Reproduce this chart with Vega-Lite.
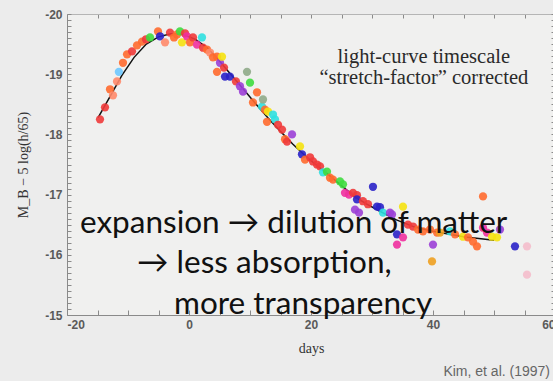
{
  "$schema": "https://vega.github.io/schema/vega-lite/v6.json",
  "width": 488,
  "height": 301,
  "autosize": {"type": "none"},
  "padding": {"left": 67, "top": 14, "right": 0, "bottom": 66},
  "background": "#ececec",
  "config": {
    "view": {"fill": "#f0f0ef", "stroke": null},
    "axis": {
      "grid": false,
      "domainColor": "#8a8a8a",
      "tickColor": "#8a8a8a",
      "labelFont": "Liberation Sans",
      "labelFontWeight": "bold",
      "labelColor": "#5a5a5a",
      "labelFontSize": 12,
      "titleFont": "Liberation Serif",
      "titleFontWeight": "normal",
      "titleColor": "#333333",
      "titleFontSize": 14
    }
  },
  "datasets": {
    "curve": [
      {"day": -14.9, "mag": -18.28}, {"day": -13, "mag": -18.62}, {"day": -11, "mag": -18.98},
      {"day": -9, "mag": -19.28}, {"day": -7, "mag": -19.5}, {"day": -5, "mag": -19.62},
      {"day": -3, "mag": -19.67}, {"day": -1, "mag": -19.66}, {"day": 1, "mag": -19.58},
      {"day": 3, "mag": -19.44}, {"day": 5, "mag": -19.22}, {"day": 7, "mag": -18.98},
      {"day": 9, "mag": -18.74}, {"day": 11, "mag": -18.5}, {"day": 13, "mag": -18.27},
      {"day": 15, "mag": -18.05}, {"day": 17, "mag": -17.84}, {"day": 19, "mag": -17.65},
      {"day": 21, "mag": -17.48}, {"day": 23, "mag": -17.32}, {"day": 25, "mag": -17.15},
      {"day": 27, "mag": -16.98}, {"day": 29, "mag": -16.85}, {"day": 31, "mag": -16.74},
      {"day": 34, "mag": -16.58}, {"day": 37, "mag": -16.46}, {"day": 40, "mag": -16.39},
      {"day": 45, "mag": -16.3}, {"day": 50, "mag": -16.24}
    ],
    "obs": [
      {"day": -14.59, "mag": -18.25, "sn": "a"}, {"day": -13.77, "mag": -18.45, "sn": "a"},
      {"day": -12.95, "mag": -18.75, "sn": "b"}, {"day": -12.46, "mag": -18.65, "sn": "j"},
      {"day": -11.8, "mag": -18.88, "sn": "j"}, {"day": -11.5, "mag": -19.04, "sn": "i"},
      {"day": -10.82, "mag": -19.19, "sn": "b"}, {"day": -10.16, "mag": -19.33, "sn": "b"},
      {"day": -9.34, "mag": -19.38, "sn": "a"}, {"day": -8.52, "mag": -19.48, "sn": "b"},
      {"day": -7.7, "mag": -19.54, "sn": "b"}, {"day": -7.05, "mag": -19.58, "sn": "a"},
      {"day": -6.39, "mag": -19.61, "sn": "c"}, {"day": -5.08, "mag": -19.71, "sn": "b"},
      {"day": -4.75, "mag": -19.63, "sn": "d"}, {"day": -3.93, "mag": -19.53, "sn": "j"},
      {"day": -3.11, "mag": -19.69, "sn": "a"}, {"day": -2.46, "mag": -19.61, "sn": "b"},
      {"day": -1.97, "mag": -19.66, "sn": "b"}, {"day": -1.48, "mag": -19.71, "sn": "c"},
      {"day": -1.15, "mag": -19.53, "sn": "h"}, {"day": -0.66, "mag": -19.68, "sn": "a"},
      {"day": -0.33, "mag": -19.63, "sn": "f"}, {"day": 0.16, "mag": -19.53, "sn": "b"},
      {"day": 0.66, "mag": -19.61, "sn": "a"}, {"day": 1.31, "mag": -19.49, "sn": "f"},
      {"day": 2.13, "mag": -19.61, "sn": "g"}, {"day": 2.3, "mag": -19.44, "sn": "a"},
      {"day": 2.95, "mag": -19.41, "sn": "b"}, {"day": 3.44, "mag": -19.36, "sn": "j"},
      {"day": 3.93, "mag": -19.28, "sn": "b"}, {"day": 4.59, "mag": -19.29, "sn": "b"},
      {"day": 5.08, "mag": -19.19, "sn": "e"}, {"day": 5.41, "mag": -19.29, "sn": "h"},
      {"day": 4.59, "mag": -19.04, "sn": "b"}, {"day": 5.74, "mag": -19.11, "sn": "a"},
      {"day": 5.9, "mag": -18.96, "sn": "d"}, {"day": 6.72, "mag": -18.96, "sn": "d"},
      {"day": 7.7, "mag": -18.88, "sn": "a"}, {"day": 8.36, "mag": -18.8, "sn": "e"},
      {"day": 8.85, "mag": -18.71, "sn": "e"}, {"day": 9.51, "mag": -19.04, "sn": "m"},
      {"day": 10.0, "mag": -18.86, "sn": "c"}, {"day": 10.49, "mag": -18.53, "sn": "b"},
      {"day": 11.15, "mag": -18.7, "sn": "b"}, {"day": 11.97, "mag": -18.46, "sn": "g"},
      {"day": 12.13, "mag": -18.58, "sn": "m"}, {"day": 12.46, "mag": -18.41, "sn": "b"},
      {"day": 12.95, "mag": -18.38, "sn": "h"}, {"day": 12.79, "mag": -18.21, "sn": "b"},
      {"day": 13.77, "mag": -18.33, "sn": "g"}, {"day": 14.1, "mag": -18.25, "sn": "g"},
      {"day": 14.59, "mag": -18.16, "sn": "a"}, {"day": 15.25, "mag": -18.08, "sn": "a"},
      {"day": 15.74, "mag": -17.92, "sn": "b"}, {"day": 16.07, "mag": -17.88, "sn": "a"},
      {"day": 16.89, "mag": -18.0, "sn": "e"}, {"day": 18.2, "mag": -17.8, "sn": "h"},
      {"day": 18.52, "mag": -17.67, "sn": "d"}, {"day": 19.02, "mag": -17.58, "sn": "b"},
      {"day": 19.84, "mag": -17.62, "sn": "a"}, {"day": 20.33, "mag": -17.55, "sn": "a"},
      {"day": 20.98, "mag": -17.5, "sn": "a"}, {"day": 21.48, "mag": -17.47, "sn": "a"},
      {"day": 21.97, "mag": -17.37, "sn": "g"}, {"day": 22.62, "mag": -17.38, "sn": "c"},
      {"day": 23.11, "mag": -17.28, "sn": "b"}, {"day": 23.61, "mag": -17.25, "sn": "b"},
      {"day": 24.75, "mag": -17.22, "sn": "c"}, {"day": 25.25, "mag": -17.17, "sn": "c"},
      {"day": 25.57, "mag": -17.03, "sn": "f"}, {"day": 26.23, "mag": -17.0, "sn": "f"},
      {"day": 26.89, "mag": -17.03, "sn": "a"}, {"day": 27.54, "mag": -16.99, "sn": "a"},
      {"day": 27.54, "mag": -16.92, "sn": "d"}, {"day": 27.21, "mag": -16.75, "sn": "e"},
      {"day": 27.87, "mag": -16.7, "sn": "e"}, {"day": 28.52, "mag": -16.89, "sn": "a"},
      {"day": 29.34, "mag": -16.84, "sn": "a"}, {"day": 30.16, "mag": -17.13, "sn": "d"},
      {"day": 30.82, "mag": -16.8, "sn": "d"}, {"day": 31.31, "mag": -16.79, "sn": "d"},
      {"day": 31.8, "mag": -16.7, "sn": "g"}, {"day": 32.95, "mag": -16.7, "sn": "e"},
      {"day": 33.28, "mag": -16.67, "sn": "e"}, {"day": 35.08, "mag": -16.8, "sn": "h"},
      {"day": 34.1, "mag": -16.34, "sn": "d"}, {"day": 35.08, "mag": -16.29, "sn": "f"},
      {"day": 34.1, "mag": -16.17, "sn": "f"}, {"day": 35.9, "mag": -16.5, "sn": "a"},
      {"day": 36.72, "mag": -16.47, "sn": "a"}, {"day": 37.54, "mag": -16.42, "sn": "b"},
      {"day": 38.36, "mag": -16.39, "sn": "b"}, {"day": 39.51, "mag": -16.42, "sn": "b"},
      {"day": 40.66, "mag": -16.37, "sn": "b"}, {"day": 40.0, "mag": -16.17, "sn": "e"},
      {"day": 39.84, "mag": -15.89, "sn": "k"}, {"day": 41.15, "mag": -16.37, "sn": "k"},
      {"day": 42.79, "mag": -16.39, "sn": "g"}, {"day": 43.61, "mag": -16.34, "sn": "b"},
      {"day": 44.92, "mag": -16.3, "sn": "h"}, {"day": 45.74, "mag": -16.29, "sn": "b"},
      {"day": 46.56, "mag": -16.22, "sn": "b"}, {"day": 47.21, "mag": -16.14, "sn": "b"},
      {"day": 48.2, "mag": -16.97, "sn": "b"}, {"day": 48.2, "mag": -16.45, "sn": "f"},
      {"day": 48.85, "mag": -16.37, "sn": "f"}, {"day": 49.67, "mag": -16.3, "sn": "h"},
      {"day": 50.49, "mag": -16.29, "sn": "h"}, {"day": 50.98, "mag": -16.42, "sn": "e"},
      {"day": 53.44, "mag": -16.14, "sn": "d"}, {"day": 55.41, "mag": -16.14, "sn": "l"},
      {"day": 55.41, "mag": -15.67, "sn": "l"}
    ],
    "serifnote": [
      {"day": 38.5, "mag": -19.19, "text": "light-curve timescale"},
      {"day": 38.5, "mag": -18.83, "text": "“stretch-factor” corrected"}
    ],
    "bignote": [
      {"day": -17.87, "mag": -16.37, "text": "expansion → dilution of matter"},
      {"day": -8.52, "mag": -15.69, "text": "→ less absorption,"},
      {"day": -2.46, "mag": -15.01, "text": "more transparency"}
    ],
    "credit": [
      {"day": 59.18, "mag": -13.99, "text": "Kim, et al. (1997)"}
    ]
  },
  "layer": [
    {
      "data": {"name": "curve"},
      "mark": {"type": "line", "color": "#111111", "strokeWidth": 1.5},
      "encoding": {
        "x": {"field": "day", "type": "quantitative",
          "scale": {"domain": [-20, 60], "nice": false, "zero": false},
          "axis": {"orient": "top", "labels": false, "title": null, "tickSize": -4, "domainColor": "#b5b5b5",
            "values": [-20,-15,-10,-5,0,5,10,15,20,25,30,35,40,45,50,55,60]}},
        "y": {"field": "mag", "type": "quantitative",
          "scale": {"domain": [-20, -15], "nice": false, "zero": false, "reverse": true},
          "axis": {"orient": "right", "labels": false, "title": null, "tickSize": -4, "domainColor": "#b5b5b5",
            "values": [-20,-19.9,-19.8,-19.7,-19.6,-19.5,-19.4,-19.3,-19.2,-19.1,-19,-18.9,-18.8,-18.7,-18.6,-18.5,-18.4,-18.3,-18.2,-18.1,-18,-17.9,-17.8,-17.7,-17.6,-17.5,-17.4,-17.3,-17.2,-17.1,-17,-16.9,-16.8,-16.7,-16.6,-16.5,-16.4,-16.3,-16.2,-16.1,-16,-15.9,-15.8,-15.7,-15.6,-15.5,-15.4,-15.3,-15.2,-15.1,-15]}}
      }
    },
    {
      "data": {"name": "obs"},
      "mark": {"type": "circle", "size": 68, "opacity": 0.9},
      "encoding": {
        "x": {"field": "day", "type": "quantitative",
          "axis": {"orient": "bottom", "title": "days", "tickSize": -5, "labelPadding": 9, "titlePadding": 11,
            "values": [-20,-15,-10,-5,0,5,10,15,20,25,30,35,40,45,50,55,60],
            "labelExpr": "datum.value % 20 === 0 ? '' + datum.value : ''"}},
        "y": {"field": "mag", "type": "quantitative",
          "axis": {"orient": "left", "title": "M_B − 5 log(h/65)", "tickSize": -4, "labelPadding": 9, "titlePadding": 14,
            "values": [-20,-19.9,-19.8,-19.7,-19.6,-19.5,-19.4,-19.3,-19.2,-19.1,-19,-18.9,-18.8,-18.7,-18.6,-18.5,-18.4,-18.3,-18.2,-18.1,-18,-17.9,-17.8,-17.7,-17.6,-17.5,-17.4,-17.3,-17.2,-17.1,-17,-16.9,-16.8,-16.7,-16.6,-16.5,-16.4,-16.3,-16.2,-16.1,-16,-15.9,-15.8,-15.7,-15.6,-15.5,-15.4,-15.3,-15.2,-15.1,-15],
            "labelExpr": "datum.value % 1 === 0 ? '' + datum.value : ''"}},
        "color": {"field": "sn", "type": "nominal", "legend": null,
          "scale": {"domain": ["a","b","c","d","e","f","g","h","i","j","k","l","m"],
            "range": ["#f03a3a","#ff6a2e","#3fdc3f","#2a22c8","#9b3fd6","#f0309f","#2fe0e0","#f5e20f","#6ec8ff","#ff8a6a","#eea020","#f4bccb","#8faa88"]}}
      }
    },
    {
      "data": {"name": "serifnote"},
      "mark": {"type": "text", "font": "Liberation Serif", "fontSize": 20.5, "align": "center", "baseline": "alphabetic", "color": "#2a2a2a"},
      "encoding": {
        "x": {"field": "day", "type": "quantitative", "axis": null},
        "y": {"field": "mag", "type": "quantitative", "axis": null},
        "text": {"field": "text"}
      }
    },
    {
      "data": {"name": "bignote"},
      "mark": {"type": "text", "font": "Lato", "fontSize": 31.5, "align": "left", "baseline": "alphabetic", "color": "#111111"},
      "encoding": {
        "x": {"field": "day", "type": "quantitative", "axis": null},
        "y": {"field": "mag", "type": "quantitative", "axis": null},
        "text": {"field": "text"}
      }
    },
    {
      "data": {"name": "credit"},
      "mark": {"type": "text", "font": "Liberation Sans", "fontSize": 14, "align": "right", "baseline": "alphabetic", "color": "#666666"},
      "encoding": {
        "x": {"field": "day", "type": "quantitative", "axis": null},
        "y": {"field": "mag", "type": "quantitative", "axis": null},
        "text": {"field": "text"}
      }
    }
  ],
  "resolve": {"axis": {"x": "independent", "y": "independent"}}
}
